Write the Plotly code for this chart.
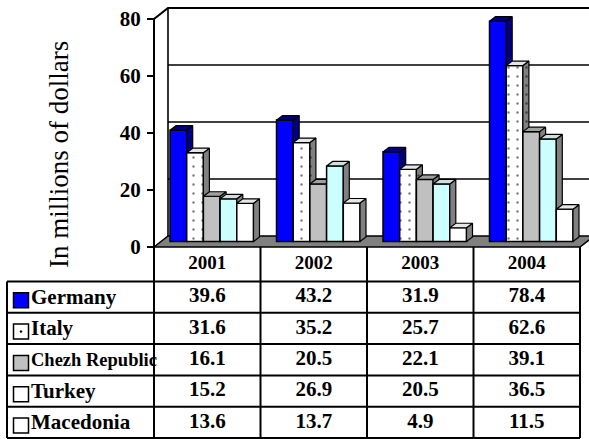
import plotly.graph_objects as go

# ---------------- data ----------------
years = ['2001', '2002', '2003', '2004']
series_names = ['Germany', 'Italy', 'Chezh Republic', 'Turkey', 'Macedonia']
germany = [39.6, 43.2, 31.9, 78.4]
italy = [31.6, 35.2, 25.7, 62.6]
chezh = [16.1, 20.5, 22.1, 39.1]
turkey = [15.2, 26.9, 20.5, 36.5]
macedonia = [13.6, 13.7, 4.9, 11.5]
y_ticks = [0, 20, 40, 60, 80]
y_title = 'In millions of dollars'

series = [germany, italy, chezh, turkey, macedonia]

# ---------------- geometry / style ----------------
W, H = 589, 439
CAT_PX = 106.5          # pixels per category
AX_PX = 154             # pixel x of the front value axis
Y0_PX, Y_SCALE = 247, 2.85   # front axis: zero pixel, px per unit
B0_PX, B_SCALE = 241.5, 2.81 # bar plane: zero pixel, px per unit
HEAD_TOP, ROW_TOP, ROW_H = 247, 281.5, 31.3
FONT = 'Liberation Serif'


def px2x(p):
    return -0.5 + (p - AX_PX) / CAT_PX


def bold(s):
    return '<b>' + s + '</b>'


front_col = ['#0000ff', '#ffffff', '#c0c0c0', '#ccffff', '#ffffff']
side_col = ['#000080', '#808080', '#808080', '#808080', '#808080']
top_col = ['#000080', '#e6e6e6', '#a0a0a0', '#d0dede', '#e6e6e6']
key_col = ['#0000ff', '#ffffff', '#c0c0c0', '#ffffff', '#ffffff']
key_sym = ['square', 'square-dot', 'square', 'square', 'square']

bw = 16.7 / CAT_PX
gstart = 16 / CAT_PX - 0.5
ddx = 6 / CAT_PX
ddy = 4.5 / B_SCALE
wall_dx = 14 / CAT_PX
wall_dy = 11 / Y_SCALE

fig = go.Figure()

# floor
fx = [-0.5, len(years) - 0.5, len(years) - 0.5 + wall_dx, -0.5 + wall_dx, -0.5]
fy = [0, 0, wall_dy, wall_dy, 0]
fig.add_trace(go.Scatter(x=fx, y=fy, mode='lines', fill='toself', fillcolor='#808080',
                         line=dict(color='black', width=1.5), hoverinfo='skip',
                         xaxis='x', yaxis='y', showlegend=False))
# back wall lines
xr_end = px2x(W + 20)
wx, wy = [], []
for t in y_ticks[1:]:
    wx += [-0.5 + wall_dx, xr_end, None]
    wy += [t + wall_dy, t + wall_dy, None]
wx += [-0.5 + wall_dx, -0.5 + wall_dx, None]
wy += [wall_dy, y_ticks[-1] + wall_dy, None]
fig.add_trace(go.Scatter(x=wx, y=wy, mode='lines', line=dict(color='black', width=1.6),
                         hoverinfo='skip', showlegend=False, xaxis='x', yaxis='y'))
# top edge thicker + front axis + diagonal
ax_x = [-0.5, -0.5, -0.5 + wall_dx, xr_end]
ax_y = [0, y_ticks[-1], y_ticks[-1] + wall_dy, y_ticks[-1] + wall_dy]
fig.add_trace(go.Scatter(x=ax_x, y=ax_y, mode='lines', line=dict(color='black', width=2),
                         hoverinfo='skip', showlegend=False, xaxis='x', yaxis='y'))

# bars with 3D faces, each series on its own overlaid axis for painter's order
for j, vals in enumerate(series):
    ya = 'y%d' % (j + 2)
    xs = [i + gstart + bw * (j + 0.5) for i in range(len(years))]
    marker = dict(color=front_col[j], line=dict(color='black', width=1.5))
    if j == 1:
        marker['pattern'] = dict(shape='.', fgcolor='black', bgcolor='white', size=9, solidity=0.06)
    fig.add_trace(go.Bar(x=xs, y=vals, width=bw, marker=marker, name=series_names[j],
                         xaxis='x', yaxis=ya, showlegend=False, hoverinfo='skip'))
    sx, sy, tx, ty = [], [], [], []
    for xc, v in zip(xs, vals):
        xl, xr = xc - bw / 2, xc + bw / 2
        sx += [xr, xr + ddx, xr + ddx, xr, xr, None]
        sy += [0, ddy, v + ddy, v, 0, None]
        tx += [xl, xl + ddx, xr + ddx, xr, xl, None]
        ty += [v, v + ddy, v + ddy, v, v, None]
    kw = {}
    if j == 1:
        kw['fillpattern'] = dict(shape='.', fgcolor='black', bgcolor='#808080', size=9, solidity=0.06)
    fig.add_trace(go.Scatter(x=sx, y=sy, mode='lines', fill='toself', fillcolor=side_col[j],
                             line=dict(color='black', width=1.2), hoverinfo='skip',
                             showlegend=False, xaxis='x', yaxis=ya, **kw))
    fig.add_trace(go.Scatter(x=tx, y=ty, mode='lines', fill='toself', fillcolor=top_col[j],
                             line=dict(color='black', width=1.2), hoverinfo='skip',
                             showlegend=False, xaxis='x', yaxis=ya))

# ---------------- data table ----------------
head_h = (ROW_TOP - HEAD_TOP) / ROW_H
nrows = len(series)
fig.add_trace(go.Scatter(x=list(range(len(years))), y=[-head_h / 2] * len(years), mode='text',
                         text=[bold(y) for y in years], textfont=dict(family=FONT, size=19, color='black'),
                         hoverinfo='skip', showlegend=False, xaxis='x', yaxis='y7'))
vx, vy, vt = [], [], []
for r, vals in enumerate(series):
    for i, v in enumerate(vals):
        vx.append(i)
        vy.append(r + 0.5)
        vt.append(bold('%.1f' % v))
fig.add_trace(go.Scatter(x=vx, y=vy, mode='text', text=vt,
                         textfont=dict(family=FONT, size=21, color='black'),
                         hoverinfo='skip', showlegend=False, xaxis='x', yaxis='y7'))
lab_sizes = [21 if len(n) < 12 else 18.5 for n in series_names]
fig.add_trace(go.Scatter(x=[px2x(31)] * nrows, y=[r + 0.55 for r in range(nrows)], mode='text',
                         text=[bold(n) for n in series_names], textposition='middle right',
                         textfont=dict(family=FONT, size=lab_sizes, color='black'),
                         hoverinfo='skip', showlegend=False, xaxis='x', yaxis='y7'))
fig.add_trace(go.Scatter(x=[px2x(21)] * nrows, y=[r + 0.6 for r in range(nrows)], mode='markers',
                         marker=dict(symbol=key_sym, size=15, color=key_col,
                                     line=dict(color='black', width=1.5)),
                         hoverinfo='skip', showlegend=False, xaxis='x', yaxis='y7'))

shapes = []
left_x = px2x(7)
right_x = len(years) - 0.5
for r in range(nrows + 1):
    shapes.append(dict(type='line', xref='x', yref='y7', x0=left_x, x1=right_x, y0=r, y1=r,
                       line=dict(color='black', width=2), layer='above'))
shapes.append(dict(type='line', xref='x', yref='y7', x0=left_x, x1=left_x, y0=0, y1=nrows,
                   line=dict(color='black', width=2), layer='above'))
for k in range(len(years) + 1):
    shapes.append(dict(type='line', xref='x', yref='y7', x0=k - 0.5, x1=k - 0.5, y0=-head_h, y1=nrows,
                       line=dict(color='black', width=2), layer='above'))

# ---------------- layout ----------------
xrange = [px2x(0), px2x(W)]
yrange = [-(H - Y0_PX) / Y_SCALE, Y0_PX / Y_SCALE]
brange = [-(H - B0_PX) / B_SCALE, B0_PX / B_SCALE]
trange = [(H - ROW_TOP) / ROW_H, -ROW_TOP / ROW_H]

layout = dict(
    width=W, height=H, margin=dict(l=0, r=0, t=0, b=0),
    font=dict(family=FONT, color='black'),
    paper_bgcolor='white', plot_bgcolor='white', barmode='overlay', showlegend=False,
    xaxis=dict(domain=[0, 1], range=xrange, visible=False, fixedrange=True),
    yaxis=dict(domain=[0, 1], range=yrange, anchor='free', position=AX_PX / W,
               tickmode='array', tickvals=y_ticks, ticktext=[bold(str(t)) for t in y_ticks],
               ticks='outside', ticklen=7, tickwidth=1.5, tickcolor='black',
               showgrid=False, zeroline=False, showline=False, ticklabelstandoff=2,
               tickfont=dict(family=FONT, size=21, color='black')),
    shapes=shapes,
    annotations=[dict(text=y_title, xref='paper', yref='paper', x=59 / W, y=1 - 155 / H,
                      xanchor='center', yanchor='middle', textangle=-90, showarrow=False,
                      font=dict(family=FONT, size=27, color='black'))],
)
for j in range(len(series)):
    layout['yaxis%d' % (j + 2)] = dict(domain=[0, 1], range=brange, overlaying='y', visible=False)
layout['yaxis7'] = dict(domain=[0, 1], range=trange, overlaying='y', visible=False)
fig.update_layout(**layout)

fig.write_html('out.html')
